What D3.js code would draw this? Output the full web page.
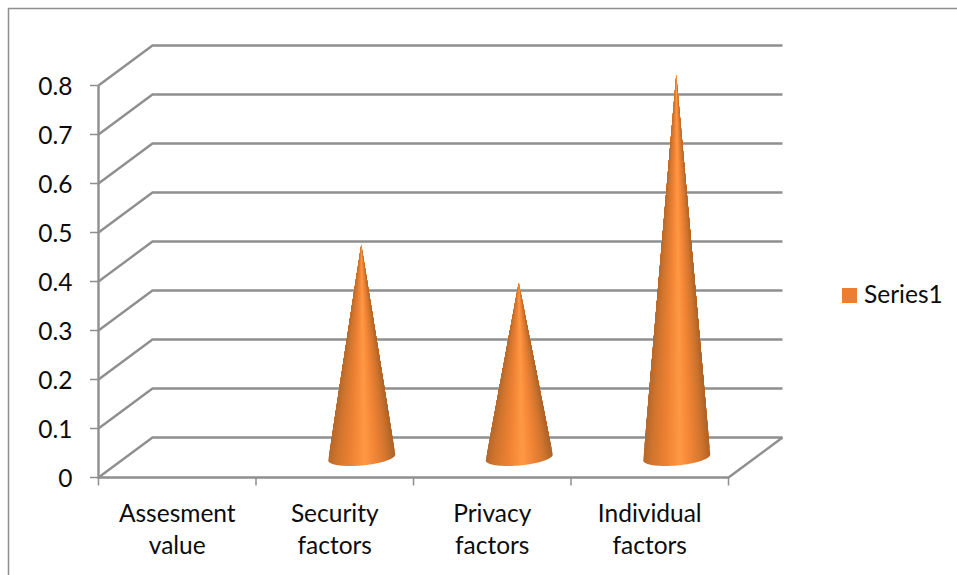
<!DOCTYPE html>
<html>
<head>
<meta charset="utf-8">
<script src="https://cdn.jsdelivr.net/npm/d3@7/dist/d3.min.js"></script>
<style>
  html, body { margin: 0; padding: 0; background: #fff; }
  svg { display: block; }
  text { font-family: Lato, "Open Sans", sans-serif; fill: #0c0c0c; }
</style>
</head>
<body>
<svg id="chart" width="957" height="575"></svg>
<script>
const categories = [["Assesment", "value"], ["Security", "factors"], ["Privacy", "factors"], ["Individual", "factors"]];
const seriesValues = [0, 0.434, 0.356, 0.78];
const yTicks = [0, 0.1, 0.2, 0.3, 0.4, 0.5, 0.6, 0.7, 0.8];
const seriesName = "Series1";

const gridColor = "#8f8f8f";
const svg = d3.select("#chart");

// Pseudo-3D box: front plane plus a fixed depth offset to the back wall.
const depthX = 54, depthY = -40;
const y = d3.scaleLinear().domain([0, 0.8]).range([477.5, 85.5]);
const x = d3.scaleBand().domain(d3.range(categories.length)).range([98.5, 728.5]);

// Outer chart frame, open towards the page edges
svg.append("path")
  .attr("d", "M8.5,575V8.5H957")
  .attr("fill", "none").attr("stroke", "#8f8f8f").attr("stroke-width", 1.5);

// Shading across a cone, dark at the silhouette and bright near the middle
const grad = svg.append("defs").append("linearGradient")
  .attr("id", "coneShade").attr("x1", 0).attr("x2", 1).attr("y1", 0).attr("y2", 0);
[[0, "#b5672a"], [0.12, "#cf742d"], [0.32, "#ec8032"], [0.55, "#ff9844"], [0.72, "#f08334"], [0.88, "#cf742d"], [1, "#ab6126"]]
  .forEach(([o, c]) => grad.append("stop").attr("offset", o).attr("stop-color", c));

// Gridlines: side wall diagonal then back wall horizontal
const grid = svg.append("g").attr("fill", "none").attr("stroke", gridColor).attr("stroke-width", 2.4);
grid.selectAll("path").data(yTicks).join("path")
  .attr("d", d => `M${x.range()[0]},${y(d)}L${x.range()[0] + depthX},${y(d) + depthY}H${x.range()[1] + depthX}`);

// Floor edges on the right and along the front
grid.append("path")
  .attr("d", `M${x.range()[1] + depthX},${y(0) + depthY}L${x.range()[1]},${y(0)}H${x.range()[0]}V${y(0.8)}`);

// Value axis ticks and labels
const yAxis = svg.append("g");
yAxis.selectAll("line").data(yTicks).join("line")
  .attr("x1", 90).attr("x2", x.range()[0]).attr("y1", d => y(d)).attr("y2", d => y(d))
  .attr("stroke", gridColor).attr("stroke-width", 1.5);
yAxis.selectAll("text").data(yTicks).join("text")
  .attr("x", 72.5).attr("y", d => y(d) + 9).attr("text-anchor", "end")
  .attr("font-size", 24.5)
  .text(d => d3.format("~g")(d));

// Category ticks
const edges = d3.range(categories.length + 1).map(i => x.range()[0] + i * x.bandwidth());
svg.append("g").selectAll("line").data(edges).join("line")
  .attr("x1", d => d).attr("x2", d => d).attr("y1", y(0)).attr("y2", y(0) + 8)
  .attr("stroke", gridColor).attr("stroke-width", 1.5);

// Category labels on two lines
const catLabels = svg.append("g").selectAll("text").data(categories).join("text")
  .attr("text-anchor", "middle").attr("font-size", 24.5);
catLabels.each(function (lines, i) {
  d3.select(this).selectAll("tspan").data(lines).join("tspan")
    .attr("x", x(i) + x.bandwidth() / 2)
    .attr("y", (d, j) => 522 + j * 32)
    .text(d => d);
});

// Cones stand on the middle of the floor depth; the base is a slightly tilted ellipse.
// Each cone is painted as nested copies shrinking towards the tip, so the shading
// narrows with the silhouette instead of staying fixed across the full base width.
const rx = 33.5, ry = 8, tilt = -5 * Math.PI / 180;
const outline = d3.line();
const shrink = d3.range(1, 0, -0.02);

function conePath(d, s) {
  const cx = x(d.i) + x.bandwidth() / 2 + depthX / 2;
  const base = y(0) + depthY / 2;
  const tip = y(d.v) + depthY / 2;
  const tipX = cx - 0.5;
  const rim = d3.range(0, 41).map(k => {
    const a = Math.PI * (1 - k / 40);
    const px = cx + rx * Math.cos(a);
    const py = base + ry * Math.sin(a) + rx * Math.cos(a) * Math.tan(tilt);
    return [tipX + (px - tipX) * s, tip + (py - tip) * s];
  });
  return outline([[tipX, tip], ...rim]) + "Z";
}

svg.append("g").selectAll("g")
  .data(seriesValues.map((v, i) => ({ v, i })).filter(d => d.v > 0))
  .join("g")
  .selectAll("path")
  .data(d => shrink.map(s => ({ d, s })))
  .join("path")
  .attr("fill", "url(#coneShade)")
  .attr("d", c => conePath(c.d, c.s));

// Legend
svg.append("rect").attr("x", 842).attr("y", 288).attr("width", 15).attr("height", 15).attr("fill", "#ed7d31");
svg.append("text").attr("x", 864).attr("y", 303).attr("font-size", 24.5).text(seriesName);
</script>
</body>
</html>
